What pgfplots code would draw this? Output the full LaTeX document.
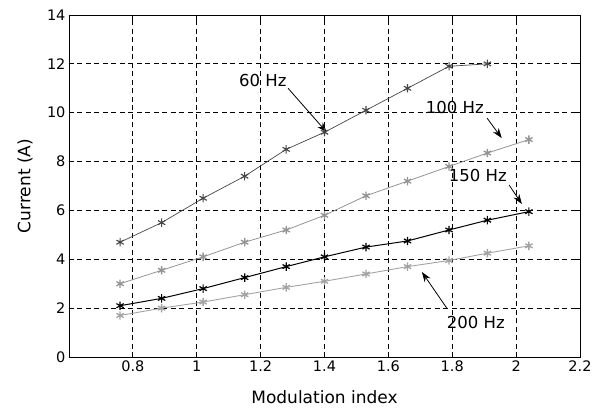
\documentclass[border=0pt]{standalone}
\usepackage{fontspec}
\setmainfont{DejaVu Sans}
\usepackage{pgfplots}
\pgfplotsset{compat=1.18}
\usetikzlibrary{arrows.meta}
\definecolor{g60}{gray}{0.28}
\definecolor{g100}{gray}{0.58}
\definecolor{g200}{gray}{0.64}
\begin{document}
\begin{tikzpicture}[x=1pt,y=1pt]
\begin{axis}[
    scale only axis,
    width=511pt, height=342pt,
    xmin=0.6, xmax=2.2, ymin=0, ymax=14,
    xtick={0.8,1,1.2,1.4,1.6,1.8,2,2.2},
    ytick={0,2,4,6,8,10,12,14},
    tick align=inside,
    major tick length=5pt,
    grid=major,
    major grid style={black, line width=0.8pt, dash pattern=on 5pt off 3.5pt},
    axis line style={black, line width=0.9pt},
    tick style={black, line width=0.8pt},
    tick label style={font=\fontsize{14.5}{16}\selectfont},
    label style={font=\fontsize{17}{19}\selectfont},
    /pgf/number format/assume math mode=true,
    xlabel={Modulation index},
    ylabel={Current (A)},
    xlabel style={at={([yshift=-40pt]axis description cs:0.5,0)}, anchor=center},
    ylabel style={at={([xshift=-44pt]axis description cs:0,0.5)}, anchor=center},
    every axis plot/.append style={mark=asterisk, mark size=4.2pt},
    clip=false,
]
% 60 Hz
\addplot[color=g60, line width=0.7pt, mark options={line width=1.1pt}] coordinates {
(0.76,4.7)(0.89,5.5)(1.02,6.5)(1.15,7.4)(1.28,8.5)(1.40,9.2)(1.53,10.1)(1.66,11.0)(1.79,11.9)(1.91,12.0)};
% 100 Hz
\addplot[color=g100, line width=0.8pt, mark options={line width=1.3pt}] coordinates {
(0.76,3.0)(0.89,3.55)(1.02,4.1)(1.15,4.7)(1.28,5.2)(1.40,5.8)(1.53,6.6)(1.66,7.2)(1.79,7.8)(1.91,8.35)(2.04,8.9)};
% 150 Hz
\addplot[color=black, line width=1pt, mark options={line width=1.2pt}] coordinates {
(0.76,2.1)(0.89,2.4)(1.02,2.8)(1.15,3.25)(1.28,3.7)(1.40,4.1)(1.53,4.5)(1.66,4.75)(1.79,5.2)(1.91,5.6)(2.04,5.95)};
% 200 Hz
\addplot[color=g200, line width=0.9pt, mark options={line width=1.3pt}] coordinates {
(0.76,1.7)(0.89,2.0)(1.02,2.25)(1.15,2.55)(1.28,2.85)(1.40,3.1)(1.53,3.4)(1.66,3.7)(1.79,3.95)(1.91,4.25)(2.04,4.55)};

\begin{scope}[font=\fontsize{16.5}{18}\selectfont]
\node at (axis cs:1.207,11.3) {60 Hz};
\node at (axis cs:1.808,10.23) {100 Hz};
\node at (axis cs:1.88,7.45) {150 Hz};
\node at (axis cs:1.874,1.43) {200 Hz};
\end{scope}
\begin{scope}[-{Stealth[length=10pt,width=7pt]}, black, line width=0.8pt]
\draw (axis cs:1.286,11.0) -- (axis cs:1.407,9.2);
\draw (axis cs:1.909,9.78) -- (axis cs:1.955,8.96);
\draw (axis cs:1.978,7.04) -- (axis cs:2.018,6.26);
\draw (axis cs:1.783,2.0) -- (axis cs:1.705,3.48);
\end{scope}
\end{axis}
\pgfresetboundingbox
\path[use as bounding box] (-69,-56) rectangle (537,357);
\end{tikzpicture}
\end{document}
